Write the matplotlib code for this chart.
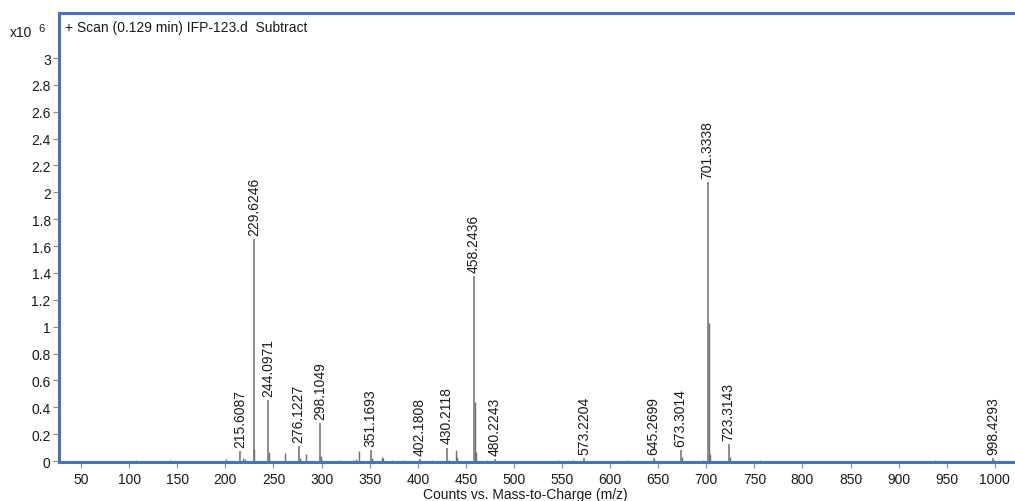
"""Mass spectrum plot: scan at 0.129 min, IFP-123.d (background subtracted)."""

import matplotlib

matplotlib.use("Agg")
import matplotlib.pyplot as plt  # noqa: E402
from matplotlib.ticker import FormatStrFormatter, MultipleLocator  # noqa: E402

plt.rcParams["font.family"] = ["Liberation Sans", "DejaVu Sans"]

FRAME, STICK, INK, TICK = "#4472c4", "#6e6e6e", "#1a1a1a", "#8a8a8a"

# labelled peaks: m/z and counts (x10^6)
label_mz = [215.6087, 229.6246, 244.0971, 276.1227, 298.1049, 351.1693,
            402.1808, 430.2118, 458.2436, 480.2243, 573.2204, 645.2699,
            673.3014, 701.3338, 723.3143, 998.4293]
label_counts = [0.075, 1.65, 0.455, 0.11, 0.28, 0.08,
                0.015, 0.10, 1.375, 0.015, 0.025, 0.02,
                0.08, 2.075, 0.125, 0.02]

# unlabelled ions (isotopes, fragments, noise)
minor_mz = [107.0, 142.0, 201.0, 218.1, 220.1, 230.13, 245.1, 262.3, 277.1,
            284.1, 299.1, 300.1, 318.0, 333.0, 336.0, 338.6, 352.2, 362.9,
            364.0, 373.0, 385.0, 415.0, 432.0, 440.2, 441.2, 459.25, 460.25,
            472.0, 546.0, 561.0, 618.0, 646.3, 674.3, 697.0, 702.34, 703.34,
            724.3, 755.5, 938.0, 999.4]
minor_counts = [0.005, 0.007, 0.015, 0.02, 0.015, 0.09, 0.07, 0.06, 0.02,
                0.05, 0.04, 0.01, 0.01, 0.01, 0.015, 0.077, 0.02, 0.03,
                0.02, 0.005, 0.005, 0.01, 0.01, 0.08, 0.03, 0.44, 0.07,
                0.01, 0.005, 0.008, 0.008, 0.005, 0.03, 0.008, 1.03, 0.05,
                0.03, 0.01, 0.008, 0.005]

X_MIN, X_MAX = 27.0, 1022.0
Y_MIN, Y_MAX = -0.007, 3.335

fig = plt.figure(figsize=(10.15, 5.02), dpi=100)
ax = fig.add_axes([59 / 1015, 39 / 502, 957 / 1015, 449 / 502])

ax.vlines(minor_mz, 0, minor_counts, color=STICK, lw=1.0)
ax.vlines(label_mz, 0, label_counts, color=STICK, lw=1.1)
for mz, c in zip(label_mz, label_counts):
    ax.annotate(f"{mz:.4f}", (mz, c), xytext=(0, 3), textcoords="offset points",
                rotation=90, ha="center", va="bottom", fontsize=10, color=INK)

ax.set_xlim(X_MIN, X_MAX)
ax.set_ylim(Y_MIN, Y_MAX)
ax.xaxis.set_major_locator(MultipleLocator(50))
ax.yaxis.set_major_formatter(FormatStrFormatter("%g"))
ax.set_yticks([v / 10 for v in range(0, 31, 2)])
ax.tick_params(length=4, width=0.8, color=TICK, labelsize=10, labelcolor=INK, pad=2)
ax.tick_params(axis="x", pad=3)

for side in ("left", "top", "bottom"):
    ax.spines[side].set_color(FRAME)
    ax.spines[side].set_linewidth(2.2)
ax.spines["right"].set_visible(False)

ax.text(0.006, 0.985, "+ Scan (0.129 min) IFP-123.d  Subtract", transform=ax.transAxes,
        ha="left", va="top", fontsize=10, color=INK)
fig.text(10 / 1015, 1 - 33 / 502, "x10", ha="left", va="center", fontsize=10, color=INK)
fig.text(38 / 1015, 1 - 29 / 502, "6", ha="left", va="center", fontsize=8, color=INK)
fig.text(525 / 1015, 1 - 495 / 502, "Counts vs. Mass-to-Charge (m/z)",
         ha="center", va="center", fontsize=10, color=INK)

fig.savefig("out.png", dpi=100)
